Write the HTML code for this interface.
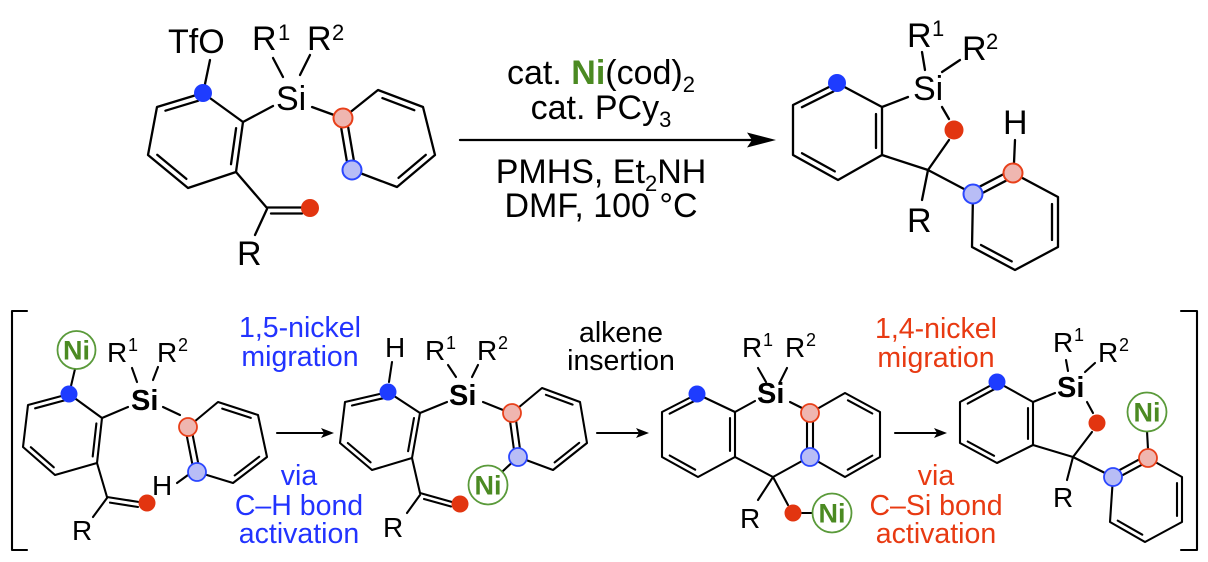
<!DOCTYPE html>
<html>
<head>
<meta charset="utf-8">
<style>
  html, body { margin: 0; padding: 0; background: #fff; }
  svg { display: block; }
</style>
</head>
<body>
<svg width="1208" height="562" viewBox="0 0 1208 562" xmlns="http://www.w3.org/2000/svg" font-family="'Liberation Sans', Arial, Helvetica, sans-serif">
<rect width="1208" height="562" fill="#fff"/>

<!-- ================= TOP ROW BONDS ================= -->
<g stroke="#000" stroke-width="2.3" fill="none" stroke-linecap="round" stroke-linejoin="round">
  <polygon points="203,93 243,122 236,172 188,188 148,155 157,107"/>
  <line x1="165.4" y1="110.7" x2="198.1" y2="100.8"/>
  <line x1="236.1" y1="128.1" x2="231" y2="164.2"/>
  <line x1="186.4" y1="178.9" x2="157.2" y2="154.8"/>
  <line x1="210" y1="60" x2="205" y2="84"/>
  <line x1="243" y1="122" x2="273" y2="106"/>
  <line x1="273" y1="58" x2="283" y2="77"/>
  <line x1="310" y1="55" x2="300" y2="75"/>
  <line x1="312" y1="107" x2="334" y2="115"/>
  <polyline points="343,118 378,90 423,107 435,155 397,187 352,170"/>
  <line x1="382.4" y1="98.1" x2="414.3" y2="110.2"/>
  <line x1="425.8" y1="154.9" x2="398.5" y2="177.9"/>
  <line x1="348.2" y1="127.3" x2="353.7" y2="159.6"/>
  <line x1="341.3" y1="128.5" x2="346.8" y2="160.8"/>
  <line x1="236" y1="172" x2="267" y2="208"/>
  <line x1="267" y1="207.5" x2="302" y2="207.5"/>
  <line x1="271" y1="213.5" x2="302" y2="213.5"/>
  <line x1="267" y1="209" x2="255" y2="235"/>

  <line x1="460" y1="140" x2="752" y2="140"/>

  <polygon points="837,83 882,107 882,155 838,180 793,155 793,105"/>
  <line x1="801.9" y1="107.2" x2="833.4" y2="91.5"/>
  <line x1="876" y1="114" x2="876" y2="148"/>
  <line x1="834.8" y1="171.4" x2="802" y2="153.2"/>
  <line x1="882" y1="107" x2="908" y2="97"/>
  <line x1="922" y1="52" x2="925" y2="70"/>
  <line x1="942" y1="72" x2="960" y2="60"/>
  <line x1="942" y1="107" x2="949" y2="119"/>
  <line x1="949" y1="140" x2="928" y2="170"/>
  <line x1="882" y1="155" x2="928" y2="170"/>
  <line x1="928" y1="170" x2="922" y2="200"/>
  <line x1="928" y1="170" x2="964" y2="189"/>
  <polyline points="1013,173 1058,197 1058,247 1015,270 972,247 973,194"/>
  <line x1="1052" y1="204" x2="1052" y2="240"/>
  <line x1="1011.7" y1="261.4" x2="981" y2="245"/>
  <line x1="983.5" y1="192.5" x2="1005.8" y2="180.8"/>
  <line x1="980.3" y1="186.3" x2="1002.6" y2="174.6"/>
  <line x1="1015" y1="140" x2="1014" y2="163"/>
</g>
<polygon points="776,140 747,132.5 752,140 747,147.5" fill="#000"/>

<!-- ================= BOTTOM ROW BONDS ================= -->
<g stroke="#000" stroke-width="2.1" fill="none" stroke-linecap="round" stroke-linejoin="round">
  <polyline points="27,311 12,311 12,550 27,550"/>
  <polyline points="1181,311 1197,311 1197,550 1181,550"/>

  <polygon points="69,394 102,418 97,463 55,475 23,447 28,405"/>
  <line x1="35.1" y1="408.3" x2="64.5" y2="400.4"/>
  <line x1="96.4" y1="423.4" x2="92.7" y2="456.5"/>
  <line x1="53.8" y1="467.3" x2="30.8" y2="447.2"/>
  <line x1="75" y1="369" x2="71" y2="386"/>
  <line x1="102" y1="418" x2="128" y2="407"/>
  <line x1="132" y1="368" x2="137" y2="382"/>
  <line x1="158" y1="367" x2="153" y2="380"/>
  <line x1="163" y1="407" x2="180" y2="415"/>
  <polyline points="188,427 218,402 258,415 267,457 233,483 197,472"/>
  <line x1="222.2" y1="408.6" x2="250.8" y2="417.9"/>
  <line x1="259.2" y1="456.7" x2="234.7" y2="475.4"/>
  <line x1="192.7" y1="435.2" x2="198.1" y2="462.6"/>
  <line x1="186.9" y1="436.4" x2="192.3" y2="463.8"/>
  <line x1="188" y1="475" x2="177" y2="483"/>
  <line x1="97" y1="463" x2="107" y2="497"/>
  <line x1="107" y1="497" x2="139" y2="502"/>
  <line x1="110" y1="502.6" x2="138" y2="507"/>
  <line x1="107" y1="498" x2="93" y2="517"/>

  <line x1="277" y1="433" x2="323" y2="433"/>

  <polygon points="388,392 420,413 412,458 372,470 340,443 345,402"/>
  <line x1="352" y1="405.5" x2="383.3" y2="398.2"/>
  <line x1="414" y1="418" x2="408.1" y2="451.2"/>
  <line x1="370.6" y1="462.3" x2="347.8" y2="443"/>
  <line x1="392" y1="362" x2="389" y2="382"/>
  <line x1="420" y1="413" x2="447" y2="402"/>
  <line x1="448" y1="365" x2="456" y2="377"/>
  <line x1="478" y1="365" x2="472" y2="377"/>
  <line x1="483" y1="402" x2="503" y2="410"/>
  <polyline points="512,413 542,388 580,402 587,443 553,470 518,457"/>
  <line x1="545.9" y1="394.8" x2="572.6" y2="404.6"/>
  <line x1="579.2" y1="442.8" x2="554.6" y2="462.4"/>
  <line x1="516.2" y1="421.5" x2="519.8" y2="447.7"/>
  <line x1="510.2" y1="422.3" x2="513.8" y2="448.5"/>
  <line x1="501.9" y1="472" x2="511.4" y2="463.1"/>
  <line x1="412" y1="458" x2="420" y2="493"/>
  <line x1="420" y1="493" x2="452" y2="502"/>
  <line x1="424" y1="499" x2="451" y2="506.5"/>
  <line x1="420" y1="495" x2="407" y2="513"/>

  <line x1="597" y1="433" x2="638" y2="433"/>

  <polygon points="697,394 735,412 735,457 698,477 662,457 662,412"/>
  <line x1="669.6" y1="413.7" x2="694" y2="401.2"/>
  <line x1="730" y1="418" x2="730" y2="451"/>
  <line x1="695.2" y1="469.7" x2="669.7" y2="455.5"/>
  <line x1="735" y1="412" x2="755" y2="401"/>
  <line x1="758" y1="368" x2="766" y2="382"/>
  <line x1="787" y1="368" x2="780" y2="382"/>
  <line x1="790" y1="402" x2="802" y2="408"/>
  <polyline points="810,413 845,393 880,412 880,457 845,477 810,457"/>
  <line x1="847.9" y1="400.3" x2="872.3" y2="413.5"/>
  <line x1="872.3" y1="455.6" x2="847.7" y2="469.7"/>
  <line x1="807" y1="422" x2="807" y2="448"/>
  <line x1="813" y1="422" x2="813" y2="448"/>
  <line x1="735" y1="457" x2="773" y2="477"/>
  <line x1="773" y1="477" x2="802" y2="461"/>
  <line x1="773" y1="477" x2="758" y2="500"/>
  <line x1="773" y1="477" x2="788" y2="505"/>
  <line x1="802" y1="513" x2="813" y2="513"/>

  <line x1="895" y1="433" x2="936" y2="433"/>

  <polygon points="997,382 1033,402 1033,445 997,463 960,443 960,402"/>
  <line x1="967.7" y1="403.6" x2="994.1" y2="389.3"/>
  <line x1="1028" y1="408" x2="1028" y2="439"/>
  <line x1="994.1" y1="455.8" x2="967.7" y2="441.5"/>
  <line x1="1033" y1="402" x2="1055" y2="393"/>
  <line x1="1066" y1="360" x2="1068" y2="371"/>
  <line x1="1095" y1="363" x2="1085" y2="372"/>
  <line x1="1087" y1="402" x2="1093" y2="413"/>
  <line x1="1092" y1="432" x2="1073" y2="457"/>
  <line x1="1033" y1="445" x2="1073" y2="457"/>
  <line x1="1073" y1="457" x2="1067" y2="480"/>
  <line x1="1073" y1="457" x2="1105" y2="473"/>
  <polyline points="1148,458 1182,477 1182,522 1145,542 1110,522 1113,477"/>
  <line x1="1177" y1="483" x2="1177" y2="516"/>
  <line x1="1142.3" y1="534.7" x2="1117.7" y2="520.6"/>
  <line x1="1122.3" y1="475.3" x2="1141.5" y2="464.9"/>
  <line x1="1119.5" y1="470.1" x2="1138.7" y2="459.7"/>
  <line x1="1147" y1="431" x2="1148" y2="449"/>
</g>
<polygon points="334,433 321,428 324,433 321,438" fill="#000"/>
<polygon points="649,433 636,428 639,433 636,438" fill="#000"/>
<polygon points="947,433 934,428 937,433 934,438" fill="#000"/>

<!-- ================= DOTS / CIRCLES ================= -->
<g>
  <circle cx="203" cy="93" r="9" fill="#1e3cff"/>
  <circle cx="343" cy="118" r="9.5" fill="#efb6b0" stroke="#e8401a" stroke-width="2"/>
  <circle cx="352" cy="170" r="9.5" fill="#b8bdf6" stroke="#2b47ff" stroke-width="2"/>
  <circle cx="310" cy="208" r="9" fill="#e23510"/>

  <circle cx="837" cy="83" r="9" fill="#1e3cff"/>
  <circle cx="954" cy="130" r="9.5" fill="#e23510"/>
  <circle cx="973" cy="194" r="9.5" fill="#b8bdf6" stroke="#2b47ff" stroke-width="2"/>
  <circle cx="1013" cy="173" r="9.5" fill="#efb6b0" stroke="#e8401a" stroke-width="2"/>

  <circle cx="76.5" cy="350" r="19" fill="#fff" stroke="#5a9a3a" stroke-width="1.8"/>
  <circle cx="69" cy="394" r="8.5" fill="#1e3cff"/>
  <circle cx="188" cy="427" r="9" fill="#efb6b0" stroke="#e8401a" stroke-width="1.8"/>
  <circle cx="197" cy="472" r="9" fill="#b8bdf6" stroke="#2b47ff" stroke-width="1.8"/>
  <circle cx="147" cy="503" r="8.5" fill="#e23510"/>

  <circle cx="388" cy="392" r="8.5" fill="#1e3cff"/>
  <circle cx="512" cy="413" r="9" fill="#efb6b0" stroke="#e8401a" stroke-width="1.8"/>
  <circle cx="518" cy="457" r="9" fill="#b8bdf6" stroke="#2b47ff" stroke-width="1.8"/>
  <circle cx="488" cy="485" r="19.5" fill="#fff" stroke="#5a9a3a" stroke-width="1.8"/>
  <circle cx="460" cy="504" r="8.5" fill="#e23510"/>

  <circle cx="697" cy="394" r="8.5" fill="#1e3cff"/>
  <circle cx="810" cy="413" r="9" fill="#efb6b0" stroke="#e8401a" stroke-width="1.8"/>
  <circle cx="810" cy="457" r="9" fill="#b8bdf6" stroke="#2b47ff" stroke-width="1.8"/>
  <circle cx="793" cy="513" r="8.5" fill="#e23510"/>
  <circle cx="832" cy="513" r="19.5" fill="#fff" stroke="#5a9a3a" stroke-width="1.8"/>

  <circle cx="997" cy="382" r="8.5" fill="#1e3cff"/>
  <circle cx="1097" cy="423" r="8.5" fill="#e23510"/>
  <circle cx="1113" cy="477" r="9" fill="#b8bdf6" stroke="#2b47ff" stroke-width="1.8"/>
  <circle cx="1148" cy="458" r="9" fill="#efb6b0" stroke="#e8401a" stroke-width="1.8"/>
  <circle cx="1147" cy="412" r="19.5" fill="#fff" stroke="#5a9a3a" stroke-width="1.8"/>
</g>

<!-- ================= TEXT: TOP ================= -->
<g fill="#000" font-size="34">
  <text x="168" y="53">TfO</text>
  <text x="252" y="50">R</text><text x="278" y="40" font-size="22">1</text>
  <text x="307" y="50">R</text><text x="332" y="40" font-size="22">2</text>
  <text x="276" y="110">Si</text>
  <text x="237" y="265">R</text>

  <text x="907" y="47">R</text><text x="932" y="36" font-size="22">1</text>
  <text x="962" y="60">R</text><text x="986" y="49" font-size="22">2</text>
  <text x="913" y="100">Si</text>
  <text x="1003" y="134">H</text>
  <text x="907" y="232">R</text>
</g>

<g fill="#000" font-size="34" text-anchor="middle">
  <text x="601" y="84">cat. <tspan font-weight="bold" fill="#4b8a22">Ni</tspan>(cod)<tspan font-size="22" dy="8">2</tspan></text>
  <text x="601" y="119">cat. PCy<tspan font-size="22" dy="8">3</tspan></text>
  <text x="601" y="183">PMHS, Et<tspan font-size="22" dy="8">2</tspan><tspan dy="-8">NH</tspan></text>
  <text x="601" y="217">DMF, 100 °C</text>
</g>

<!-- ================= TEXT: BOTTOM LABELS ================= -->
<g fill="#000" font-size="28">
  <text x="107" y="362">R</text><text x="128" y="351" font-size="18">1</text>
  <text x="157" y="362">R</text><text x="178" y="351" font-size="18">2</text>
  <text x="131" y="410" font-weight="bold" font-size="29">Si</text>
  <text x="152" y="495">H</text>
  <text x="72" y="540">R</text>

  <text x="385" y="357">H</text>
  <text x="425" y="360">R</text><text x="446" y="349" font-size="18">1</text>
  <text x="477" y="360">R</text><text x="498" y="349" font-size="18">2</text>
  <text x="449" y="405" font-weight="bold" font-size="29">Si</text>
  <text x="383" y="537">R</text>

  <text x="742" y="357">R</text><text x="763" y="346" font-size="18">1</text>
  <text x="785" y="357">R</text><text x="806" y="346" font-size="18">2</text>
  <text x="757" y="403" font-weight="bold" font-size="29">Si</text>
  <text x="740" y="528">R</text>

  <text x="1053" y="352">R</text><text x="1074" y="341" font-size="18">1</text>
  <text x="1098" y="362">R</text><text x="1119" y="351" font-size="18">2</text>
  <text x="1057" y="397" font-weight="bold" font-size="29">Si</text>
  <text x="1053" y="507">R</text>
</g>

<g fill="#4b8a22" font-size="27" font-weight="bold" text-anchor="middle">
  <text x="76.5" y="359.5">Ni</text>
  <text x="488" y="494.5">Ni</text>
  <text x="832" y="522.5">Ni</text>
  <text x="1147" y="421.5">Ni</text>
</g>

<g font-size="28.5" text-anchor="middle">
  <g fill="#2233ff">
    <text x="300" y="337">1,5-nickel</text>
    <text x="300" y="366">migration</text>
    <text x="299" y="485">via</text>
    <text x="299" y="515">C–H bond</text>
    <text x="299" y="543">activation</text>
  </g>
  <g fill="#000">
    <text x="621" y="342">alkene</text>
    <text x="621" y="370">insertion</text>
  </g>
  <g fill="#e83a12">
    <text x="936" y="338">1,4-nickel</text>
    <text x="936" y="367">migration</text>
    <text x="936" y="485">via</text>
    <text x="936" y="515">C–Si bond</text>
    <text x="936" y="543">activation</text>
  </g>
</g>
</svg>
</body>
</html>
